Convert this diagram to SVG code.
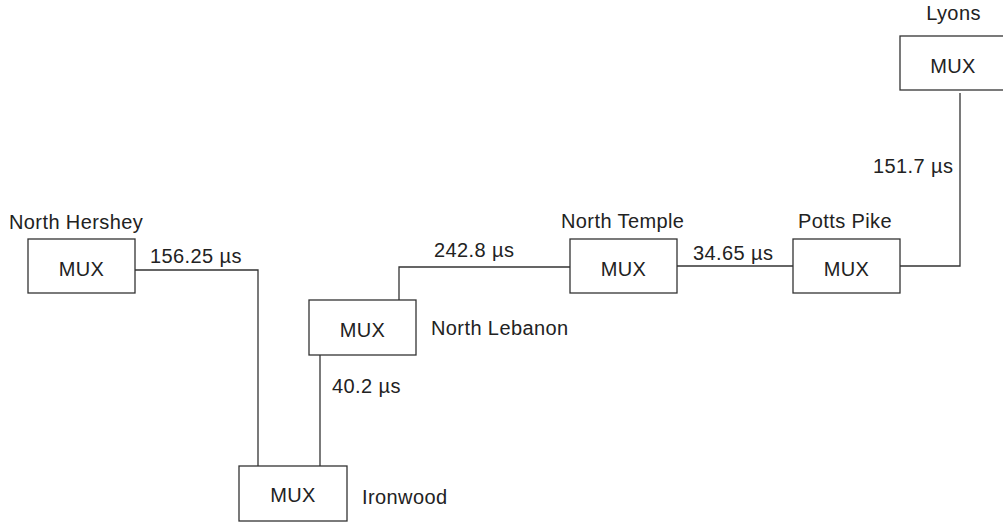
<svg xmlns="http://www.w3.org/2000/svg" width="1003" height="523" viewBox="0 0 1003 523">
<style>
.box{fill:#fff;stroke:#333;stroke-width:1.3}
.ln{fill:none;stroke:#333;stroke-width:1.3}
text{font-family:"Liberation Sans",Arial,sans-serif;font-size:20px;letter-spacing:0.4px;fill:#222}
.c{text-anchor:middle}
</style>
<rect width="1003" height="523" fill="#fff"/>
<g id="connectors">
<polyline class="ln" points="135,270 258,270 258,466"/>
<polyline class="ln" points="320,355 320,466"/>
<polyline class="ln" points="399,300 399,267 570,267"/>
<polyline class="ln" points="677,266 793,266"/>
<polyline class="ln" points="900,266 960,266 960,93"/>
<text x="150" y="263">156.25 µs</text>
<text x="434" y="257">242.8 µs</text>
<text x="332" y="393">40.2 µs</text>
<text x="693" y="260">34.65 µs</text>
<text x="873" y="173">151.7 µs</text>
</g>
<g id="north-hershey">
<rect class="box" x="28" y="239" width="107" height="54"/>
<text class="c" x="81.5" y="276">MUX</text>
<text x="9" y="229">North Hershey</text>
</g>
<g id="north-lebanon">
<rect class="box" x="309" y="300" width="107" height="55"/>
<text class="c" x="362.5" y="337">MUX</text>
<text x="431" y="335">North Lebanon</text>
</g>
<g id="ironwood">
<rect class="box" x="239" y="466" width="108" height="55"/>
<text class="c" x="293" y="502">MUX</text>
<text x="362" y="504">Ironwood</text>
</g>
<g id="north-temple">
<rect class="box" x="570" y="239" width="107" height="54"/>
<text class="c" x="623.5" y="276">MUX</text>
<text x="561" y="228">North Temple</text>
</g>
<g id="potts-pike">
<rect class="box" x="793" y="239" width="107" height="54"/>
<text class="c" x="846.5" y="276">MUX</text>
<text x="798" y="228">Potts Pike</text>
</g>
<g id="lyons">
<rect class="box" x="900" y="36" width="106" height="54"/>
<text class="c" x="953" y="73">MUX</text>
<text class="c" x="953.5" y="20">Lyons</text>
</g>
</svg>
